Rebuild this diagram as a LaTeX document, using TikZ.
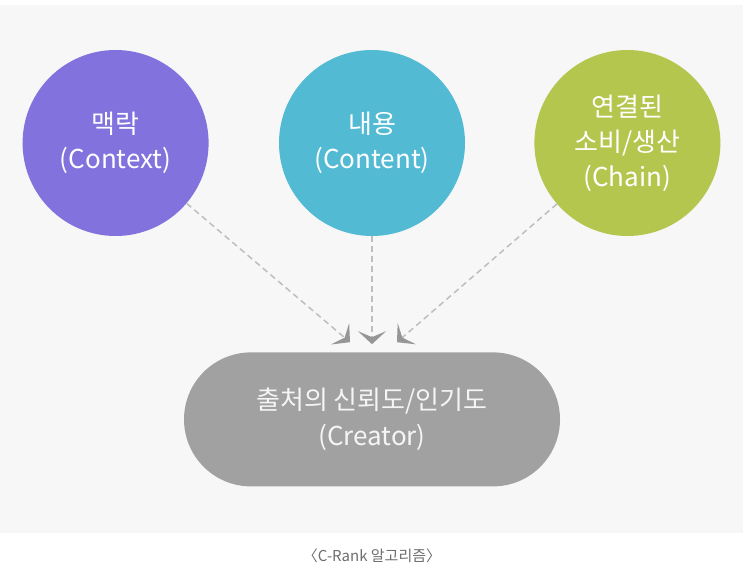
\documentclass[tikz,border=0pt]{standalone}
\usepackage{fontspec}
\setmainfont{Noto Sans CJK KR}
\usetikzlibrary{arrows.meta, positioning, calc}
\definecolor{panel}{RGB}{247, 247, 247}
\definecolor{context}{RGB}{130, 114, 221}
\definecolor{content}{RGB}{82, 186, 211}
\definecolor{chain}{RGB}{180, 198, 77}
\definecolor{creator}{RGB}{161, 161, 161}
\definecolor{dashgray}{RGB}{190, 190, 190}
\definecolor{tipgray}{RGB}{150, 150, 150}
\definecolor{captext}{RGB}{110, 110, 110}

\begin{document}
\begin{tikzpicture}[
    x=1pt, y=-1pt,
    factor/.style={circle, minimum size=186pt, inner sep=0pt, align=center, text=white, font=\fontsize{26}{35}\selectfont},
    source/.style={rectangle, rounded corners=67pt, minimum width=376pt, minimum height=134pt, align=center, fill=creator, text=white!96!black, font=\fontsize{26}{36}\selectfont},
    arrow/.style={-{Stealth[length=13pt, width=28pt, inset=6pt, color=tipgray]}, dashgray, line width=1.5pt, dash pattern=on 6pt off 4pt}
]
\useasboundingbox (0,0) rectangle (743,585);
\fill[white] (0,0) rectangle (743,585);
\fill[panel] (0,5) rectangle (743,533);

% Factors
\node[factor, fill=content] (content) at (372,143) {내용\\(Content)};
\node[factor, fill=context, left=70pt of content] (context) {맥락\\(Context)};
\node[factor, fill=chain, right=69pt of content] (chain) {연결된\\소비/생산\\(Chain)};

% Creator
\node[source, below=116pt of content] (creator) {출처의 신뢰도/인기도\\(Creator)};

\coordinate (in1) at ($(creator.north)+(-22,-10)$);
\coordinate (in2) at ($(creator.north)+(0,-8)$);
\coordinate (in3) at ($(creator.north)+(25,-10)$);

\draw[arrow] (context) -- (in1);
\draw[arrow] (content) -- (in2);
\draw[arrow] (chain) -- (in3);

% Caption
\node[text=captext, font=\fontsize{15}{17}\selectfont] (caption) at (372,556) {〈C-Rank 알고리즘〉};

\end{tikzpicture}
\end{document}
